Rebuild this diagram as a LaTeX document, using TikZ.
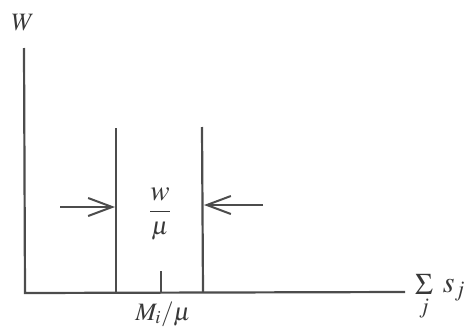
\documentclass[tikz,border=0pt]{standalone}
\usepackage{mathptmx}
\usetikzlibrary{arrows.meta}
\begin{document}
\begin{tikzpicture}[x=1pt,y=-1pt,
  axis/.style={line width=2.2pt,color=black!70},
  bar/.style={line width=2.2pt,color=black!70},
  push/.style={line width=2.2pt,color=black!70,-{Straight Barb[length=24pt,width=18pt,line width=2pt]}},
  lbl/.style={font=\fontsize{25}{30}\selectfont,text=black!78,inner sep=0pt}]
\useasboundingbox (0,0) rectangle (470,332);
\coordinate (top) at (24,48);
\coordinate (org) at (25,293);
\coordinate (xend) at (405,292);
\draw[axis] (top) -- (org) -- (xend);
\node[lbl] (W) at (23,23) {$W$};
\coordinate (l0) at (116,128);
\coordinate (l1) at (116,293);
\coordinate (r0) at (202,127);
\coordinate (r1) at (203,292);
\draw[bar] (l0) -- (l1);
\draw[bar] (r0) -- (r1);
\coordinate (t0) at (161,271);
\coordinate (t1) at (161,293);
\draw[bar,line width=1.6pt] (t0) -- (t1);
\coordinate (a0) at (60,207);
\coordinate (a1) at (115,207);
\coordinate (b0) at (263,205);
\coordinate (b1) at (204,205);
\draw[push] (a0) -- (a1);
\draw[push] (b0) -- (b1);
\node[lbl] (frac) at (160,214) {$\displaystyle\frac{\raisebox{0pt}{\fontsize{29}{30}\selectfont$w$}}{\mu}$};
\node[lbl] (mi) at (163,314) {$M_i/\mu$};
\node[lbl,font=\fontsize{30}{34}\selectfont,anchor=base west] (sum) at (415,292) {$\mathop{\Sigma}\limits_j \; s_j$};
\end{tikzpicture}
\end{document}
